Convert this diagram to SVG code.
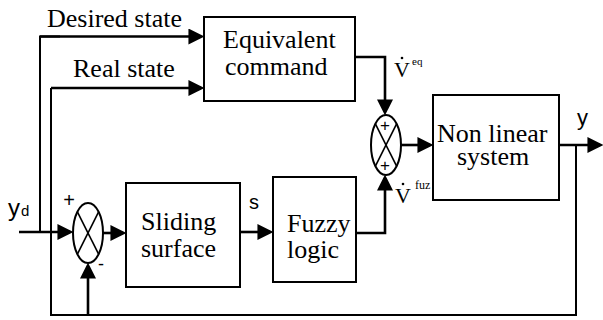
<svg xmlns="http://www.w3.org/2000/svg" width="603" height="320" viewBox="0 0 603 320">
<style>
.box{fill:#fff;stroke:#000;stroke-width:2}
.sum{fill:#fff;stroke:#000;stroke-width:2}
.x{stroke:#000;stroke-width:1.6}
.c{fill:none;stroke:#000;stroke-width:2.6}
.thin{fill:none;stroke:#000;stroke-width:2}
</style>
<defs>
<marker id="ah" markerUnits="userSpaceOnUse" markerWidth="16" markerHeight="16" viewBox="0 0 14 14" refX="11" refY="7" orient="auto">
<path d="M0,0 L14,7 L0,14 z" fill="#000"/>
</marker>
</defs>
<g id="connectors">
<path class="thin" d="M40,232 V36.5 H60"/>
<path class="c" d="M40,36.5 H201" marker-end="url(#ah)"/>
<path class="c" d="M19,232 H70" marker-end="url(#ah)"/>
<path class="thin" d="M576,145 V315 H51 V88"/>
<path class="c" d="M51,88 H201" marker-end="url(#ah)"/>
<path class="c" d="M88,315 V266" marker-end="url(#ah)"/>
<path class="c" d="M103,233 H123" marker-end="url(#ah)"/>
<path class="c" d="M240,232 H270" marker-end="url(#ah)"/>
<path class="c" d="M356,233 H385 V178" marker-end="url(#ah)"/>
<path class="c" d="M355,57 H385 V112" marker-end="url(#ah)"/>
<path class="c" d="M401,145 H430" marker-end="url(#ah)"/>
<path class="c" d="M559,145 H600" marker-end="url(#ah)"/>
</g>
<g font-family="'Liberation Serif', 'Times New Roman', serif" font-size="26" fill="#000">
<g id="label-desired"><text x="47" y="27">Desired state</text></g>
<g id="label-real"><text x="73" y="77">Real state</text></g>
</g>
<g id="equivalent-command" font-family="'Liberation Serif', 'Times New Roman', serif" font-size="26" fill="#000">
<rect class="box" x="204" y="17" width="151" height="84"/>
<text x="223" y="48">Equivalent</text>
<text x="225" y="75">command</text>
</g>
<g id="sum1" font-family="'Liberation Sans', Arial, sans-serif" fill="#000">
<ellipse class="sum" cx="88" cy="233" rx="15" ry="30"/>
<line class="x" x1="77.4" y1="211.8" x2="98.6" y2="254.2"/>
<line class="x" x1="98.6" y1="211.8" x2="77.4" y2="254.2"/>
<text x="69" y="207" font-size="20" text-anchor="middle">+</text>
<text x="101" y="270" font-size="18" text-anchor="middle">-</text>
</g>
<g id="label-yd" font-family="'Liberation Sans', Arial, sans-serif" fill="#000">
<text x="8" y="216" font-size="24">y</text>
<text x="21" y="216" font-size="15">d</text>
</g>
<g id="sliding-surface" font-family="'Liberation Serif', 'Times New Roman', serif" font-size="26" fill="#000">
<rect class="box" x="126" y="183" width="114" height="104"/>
<text x="141" y="230">Sliding</text>
<text x="141" y="257">surface</text>
</g>
<g id="label-s" font-family="'Liberation Sans', Arial, sans-serif" fill="#000"><text x="249" y="209" font-size="20">s</text></g>
<g id="fuzzy-logic" font-family="'Liberation Serif', 'Times New Roman', serif" font-size="26" fill="#000">
<rect class="box" x="273" y="177" width="83" height="105"/>
<text x="287" y="232">Fuzzy</text>
<text x="287" y="258">logic</text>
</g>
<g id="sum2" font-family="'Liberation Sans', Arial, sans-serif" fill="#000">
<ellipse class="sum" cx="386" cy="145" rx="15" ry="30"/>
<line class="x" x1="375.4" y1="123.8" x2="396.6" y2="166.2"/>
<line class="x" x1="396.6" y1="123.8" x2="375.4" y2="166.2"/>
<text x="385" y="131" font-size="17" text-anchor="middle">+</text>
<text x="385" y="171" font-size="17" text-anchor="middle">+</text>
</g>
<g id="label-veq" font-family="'Liberation Serif', 'Times New Roman', serif" fill="#000">
<text x="394" y="77" font-size="22">V</text>
<circle cx="402" cy="58" r="1.3"/>
<text x="412" y="65" font-size="11">eq</text>
</g>
<g id="label-vfuz" font-family="'Liberation Serif', 'Times New Roman', serif" fill="#000">
<text x="395" y="203" font-size="22">V</text>
<circle cx="403" cy="184" r="1.3"/>
<text x="415" y="189" font-size="12">fuz</text>
</g>
<g id="nonlinear-system" font-family="'Liberation Serif', 'Times New Roman', serif" font-size="26" fill="#000">
<rect class="box" x="433" y="95" width="126" height="105"/>
<text x="437" y="142">Non linear</text>
<text x="457" y="165">system</text>
</g>
<g id="label-y" font-family="'Liberation Sans', Arial, sans-serif" fill="#000"><text x="577" y="125" font-size="22">y</text></g>
</svg>
